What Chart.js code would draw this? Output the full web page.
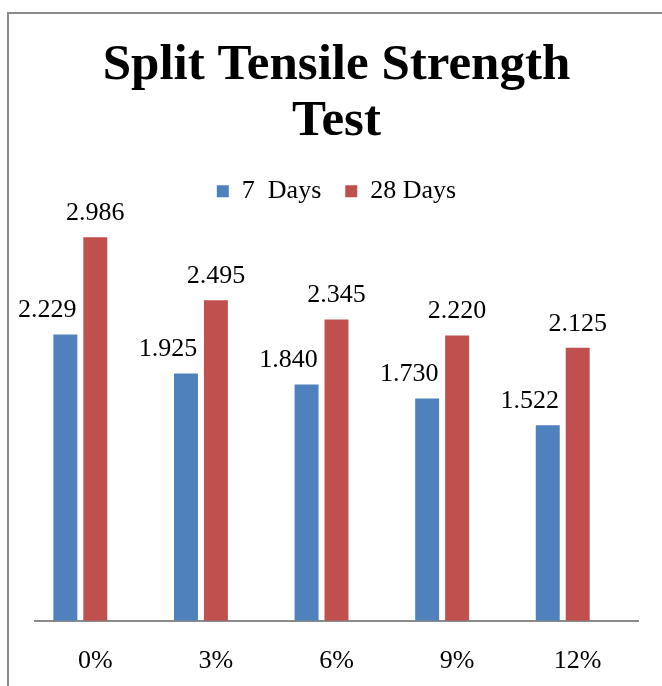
<!DOCTYPE html>
<html>
<head>
<meta charset="utf-8">
<script src="https://cdn.jsdelivr.net/npm/chart.js@4/dist/chart.umd.min.js"></script>
<style>
  html, body { margin: 0; padding: 0; background: #fff; }
  #wrap { position: relative; width: 662px; height: 686px; overflow: hidden; }
  #frame { position: absolute; left: 7px; top: 12px; width: 800px; height: 800px;
           border-left: 2px solid #8a8a8a; border-top: 2px solid #8a8a8a; box-sizing: border-box; }
  canvas { position: absolute; left: 0; top: 0; }
</style>
</head>
<body>
<div id="wrap">
  <div id="frame"></div>
  <canvas id="c" width="662" height="686"></canvas>
</div>
<script>
const categories = ['0%', '3%', '6%', '9%', '12%'];
const days7 = [2.229, 1.925, 1.840, 1.730, 1.522];
const days28 = [2.986, 2.495, 2.345, 2.220, 2.125];
const valueLabels7 = ['2.229', '1.925', '1.840', '1.730', '1.522'];
const valueLabels28 = ['2.986', '2.495', '2.345', '2.220', '2.125'];
const emptySlot = [null, null, null, null, null];

const SERIF = '"Liberation Serif", "DejaVu Serif", serif';

const valueLabelPlugin = {
  id: 'valueLabels',
  afterDatasetsDraw(chart) {
    const ctx = chart.ctx;
    const sets = [
      { idx: 0, texts: valueLabels7, dx: -18 },
      { idx: 1, texts: valueLabels28, dx: 0 }
    ];
    ctx.save();
    ctx.font = '26px ' + SERIF;
    ctx.fillStyle = '#000';
    ctx.textAlign = 'center';
    ctx.textBaseline = 'middle';
    sets.forEach(s => {
      const meta = chart.getDatasetMeta(s.idx);
      meta.data.forEach((el, i) => {
        ctx.fillText(s.texts[i], el.x + s.dx, el.y - 24);
      });
    });
    ctx.restore();
  }
};

new Chart(document.getElementById('c'), {
  type: 'bar',
  data: {
    labels: categories,
    datasets: [
      { label: '7  Days', data: days7, backgroundColor: '#4F81BD', borderWidth: 0 },
      { label: '28 Days', data: days28, backgroundColor: '#C0504D', borderWidth: 0 },
      { label: '', data: emptySlot, backgroundColor: 'rgba(0,0,0,0)', borderWidth: 0 }
    ]
  },
  options: {
    responsive: false,
    animation: false,
    devicePixelRatio: 1,
    layout: { padding: { left: 35, right: 24, top: 2, bottom: -16 } },
    datasets: {
      bar: { categoryPercentage: 0.745, barPercentage: 0.8 }
    },
    plugins: {
      title: {
        display: true,
        text: ['Split Tensile Strength', 'Test'],
        color: '#000',
        font: { family: SERIF, size: 51, weight: 'bold', lineHeight: 1.1 },
        padding: { top: 36, bottom: 4 }
      },
      legend: {
        display: true,
        position: 'top',
        labels: {
          color: '#000',
          font: { family: SERIF, size: 26 },
          boxWidth: 12,
          boxHeight: 12,
          padding: 24,
          filter: item => item.datasetIndex < 2
        }
      },
      tooltip: { enabled: false }
    },
    scales: {
      x: {
        grid: { display: false, drawTicks: false },
        border: { display: true, color: '#8a8a8a', width: 2 },
        ticks: { color: '#000', font: { family: SERIF, size: 26 }, padding: 25, maxRotation: 0 }
      },
      y: {
        display: false,
        min: 0,
        max: 3.165
      }
    }
  },
  plugins: [valueLabelPlugin]
});
</script>
</body>
</html>
